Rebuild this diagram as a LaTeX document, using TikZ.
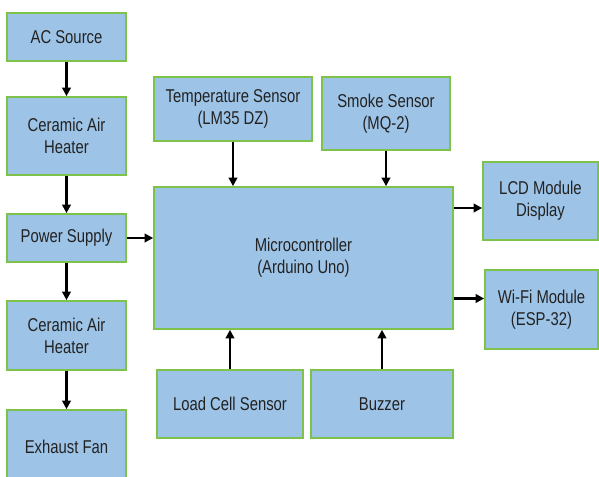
\documentclass[tikz,border=0pt]{standalone}
\usepackage{fontspec}
\setmainfont{Liberation Sans}[FakeStretch=0.8]
\usetikzlibrary{arrows.meta}
\definecolor{boxfill}{HTML}{9DC3E6}
\definecolor{boxline}{HTML}{7DC24B}
\definecolor{boxtext}{HTML}{222222}
\begin{document}
\begin{tikzpicture}[
	block/.style={draw=boxline, line width=1.2pt, fill=boxfill, text=boxtext,
		align=center, inner sep=0pt, font=\fontsize{13.2}{15.6}\selectfont},
	arr/.style={-{Triangle[length=6pt,width=6pt]}, line width=1.5pt, black}]
	\useasboundingbox (0,0) rectangle (14.975,11.925);

	% left column
	\node[block, minimum width=2.975cm, minimum height=1.2cm] (ac) at (1.6625,11.0) {AC Source};
	\node[block, minimum width=2.975cm, minimum height=1.95cm] (heat1) at (1.6625,8.525) {Ceramic Air\\Heater};
	\node[block, minimum width=2.975cm, minimum height=1.2cm] (psu) at (1.6625,5.975) {Power Supply};
	\node[block, minimum width=2.975cm, minimum height=1.725cm] (heat2) at (1.6625,3.5375) {Ceramic Air\\Heater};
	\node[block, minimum width=2.975cm, minimum height=1.85cm] (fan) at (1.6625,0.75) {Exhaust Fan};

	% sensors and controller
	\node[block, minimum width=3.95cm, minimum height=1.6cm] (temp) at (5.825,9.2) {Temperature Sensor\\(LM35 DZ)};
	\node[block, minimum width=3.2cm, minimum height=1.825cm] (smoke) at (9.65,9.0875) {Smoke Sensor\\(MQ-2)};
	\node[block, minimum width=7.475cm, minimum height=3.55cm] (mcu) at (7.5875,5.475) {Microcontroller\\(Arduino Uno)};
	\node[block, minimum width=3.65cm, minimum height=1.7cm] (load) at (5.75,1.825) {Load Cell Sensor};
	\node[block, minimum width=3.55cm, minimum height=1.7cm] (buzzer) at (9.55,1.825) {Buzzer};

	% outputs
	\node[block, minimum width=2.875cm, minimum height=1.95cm] (lcd) at (13.5125,6.9) {LCD Module\\Display};
	\node[block, minimum width=2.825cm, minimum height=1.975cm] (wifi) at (13.5375,4.1875) {Wi-Fi Module\\(ESP-32)};

	\draw[arr] (ac) -- (heat1);
	\draw[arr] (heat1) -- (psu);
	\draw[arr] (psu) -- (heat2);
	\draw[arr] (heat2) -- (fan);
	\draw[arr] (psu) -- (psu -| mcu.west);

	\draw[arr] (temp) -- (temp |- mcu.north);
	\draw[arr] (smoke) -- (smoke |- mcu.north);
	\draw[arr] (load) -- (load |- mcu.south);
	\draw[arr] (buzzer) -- (buzzer |- mcu.south);

	\draw[arr] ([yshift=-0.175cm]lcd.west -| mcu.east) -- ([yshift=-0.175cm]lcd.west);
	\draw[arr] ([yshift=0.275cm]wifi.west -| mcu.east) -- ([yshift=0.275cm]wifi.west);
\end{tikzpicture}
\end{document}
